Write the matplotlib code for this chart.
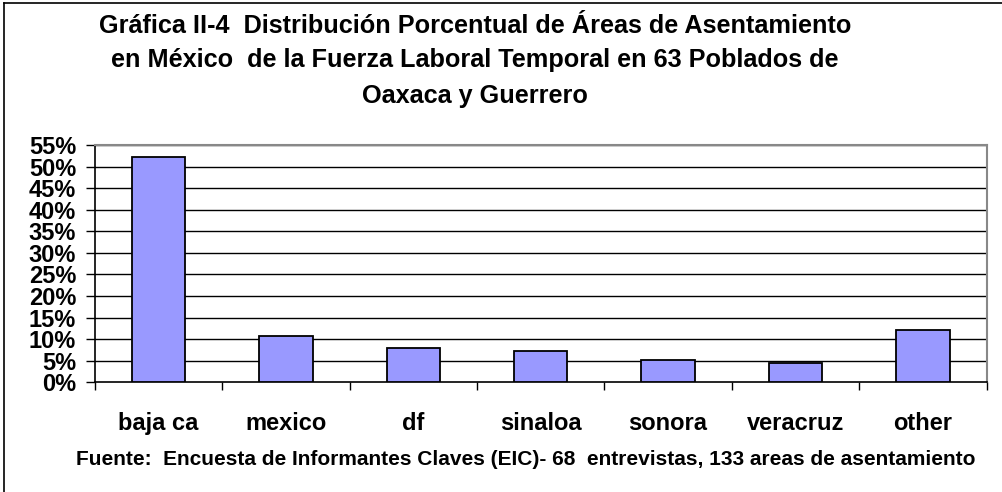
import matplotlib
matplotlib.use("Agg")
import matplotlib.pyplot as plt
from matplotlib.lines import Line2D
from matplotlib.transforms import blended_transform_factory

categories = ["baja ca", "mexico", "df", "sinaloa", "sonora", "veracruz", "other"]
values = [52.3, 10.7, 8.05, 7.35, 5.15, 4.4, 12.2]
yticks = [0, 5, 10, 15, 20, 25, 30, 35, 40, 45, 50, 55]
ytick_labels = [f"{v}%" for v in yticks]

title_lines = ["Gráfica II-4  Distribución Porcentual de Áreas de Asentamiento",
               "en México  de la Fuerza Laboral Temporal en 63 Poblados de",
               "Oaxaca y Guerrero"]
source = "Fuente:  Encuesta de Informantes Claves (EIC)- 68  entrevistas, 133 areas de asentamiento"

plt.rcParams['font.family'] = ['Liberation Sans', 'DejaVu Sans']

W, H = 1002, 492
fig = plt.figure(figsize=(W / 100, H / 100), dpi=100)
fig.patch.set_facecolor("white")

ax = fig.add_axes([95 / W, 1 - 382.3 / H, (986.5 - 95) / W, (382.3 - 145) / H])
x = list(range(len(categories)))
ax.bar(x, values, width=0.42, color="#9999ff", edgecolor="black", linewidth=1.3, zorder=3)
ax.set_xlim(-0.5, len(categories) - 0.5)
ax.set_ylim(0, 55)
ax.set_yticks(yticks)
ax.set_yticklabels(ytick_labels, fontsize=17, fontweight="bold")
for yv in yticks[1:]:
    ax.axhline(yv, color="black", linewidth=1.0, zorder=1)
ax.set_xticks(x)
ax.set_xticklabels([])
ax.tick_params(axis="x", length=0)
# category labels placed at a fixed pixel baseline
trans = blended_transform_factory(ax.transData, fig.transFigure)
for xi, lab in zip(x, categories):
    ax.text(xi, 1 - 430 / H, lab, transform=trans, ha="center", va="baseline",
            fontsize=17, fontweight="bold")
# category boundary ticks
ax.set_xticks([i - 0.5 for i in range(len(categories) + 1)], minor=True)
ax.tick_params(axis="x", which="minor", length=6, width=1, direction="out", color="black")
ax.tick_params(axis="y", length=6.5, width=1, direction="out", pad=7, color="black")
for s in ["left", "bottom"]:
    ax.spines[s].set_color("black")
    ax.spines[s].set_linewidth(1.2)
ax.spines["top"].set_color("#888888")
ax.spines["right"].set_color("#888888")
ax.spines["top"].set_linewidth(1.5)
ax.spines["right"].set_linewidth(1.5)

baselines = [33, 67, 103]
for line, b in zip(title_lines, baselines):
    fig.text(475 / W, 1 - b / H, line, ha="center", va="baseline", fontsize=18.2,
             fontweight="bold")
fig.text(975 / W, 1 - 465 / H, source, ha="right", va="baseline", fontsize=15, fontweight="bold")

# outer frame (top and left edges visible)
fig.add_artist(Line2D([4 / W, 1], [1 - 3 / H, 1 - 3 / H], transform=fig.transFigure, color="black", lw=1.2))
fig.add_artist(Line2D([4 / W, 4 / W], [0, 1 - 3 / H], transform=fig.transFigure, color="black", lw=1.2))

fig.savefig("out.png", dpi=100)
